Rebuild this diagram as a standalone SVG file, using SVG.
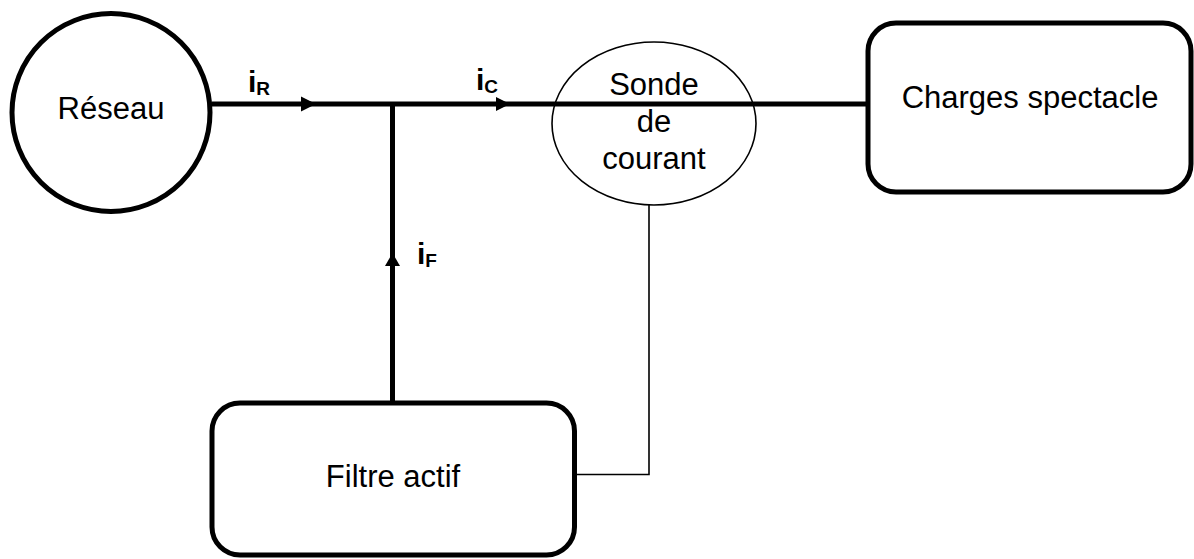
<svg xmlns="http://www.w3.org/2000/svg" width="1194" height="559" viewBox="0 0 1194 559">
<style>
.thick{fill:none;stroke:#000;stroke-width:5}
.thin{fill:none;stroke:#000;stroke-width:1.6}
.node{fill:#fff;stroke:#000;stroke-width:5}
.probe{fill:none;stroke:#000;stroke-width:1.6}
.t{font-family:"Liberation Sans",Arial,sans-serif;font-size:31px;fill:#000;text-anchor:middle}
.lb{font-family:"Liberation Sans",Arial,sans-serif;font-weight:bold;fill:#000}
.arr{fill:#000}
</style>
<rect width="1194" height="559" fill="#fff"/>
<g id="connectors">
  <line class="thick" x1="212" y1="104" x2="868" y2="104"/>
  <line class="thick" x1="392.5" y1="104" x2="392.5" y2="403"/>
  <polyline class="thin" points="649,205 649,474.5 575,474.5"/>
  <polygon class="arr" points="301,96.5 316,104 301,111.5"/>
  <polygon class="arr" points="496,97 510,104 496,111"/>
  <polygon class="arr" points="385,266 392.5,253 400,266"/>
  <text class="lb" x="248" y="92" font-size="30">i<tspan font-size="19" dy="3">R</tspan></text>
  <text class="lb" x="476" y="90" font-size="30">i<tspan font-size="19" dy="3">C</tspan></text>
  <text class="lb" x="417" y="264" font-size="30">i<tspan font-size="19" dy="3">F</tspan></text>
</g>
<g id="reseau">
  <circle class="node" cx="111" cy="112.5" r="99"/>
  <text class="t" x="111" y="119">Réseau</text>
</g>
<g id="sonde">
  <ellipse class="probe" cx="654" cy="123.5" rx="102" ry="81.5"/>
  <text class="t" x="654" y="95">Sonde</text>
  <text class="t" x="654" y="132">de</text>
  <text class="t" x="654" y="169">courant</text>
</g>
<g id="charges">
  <rect class="node" x="868" y="23" width="323" height="169" rx="28" ry="28"/>
  <text class="t" x="1030" y="108">Charges spectacle</text>
</g>
<g id="filtre">
  <rect class="node" x="212" y="403" width="362.5" height="152" rx="28" ry="28"/>
  <text class="t" x="393" y="487">Filtre actif</text>
</g>
</svg>
